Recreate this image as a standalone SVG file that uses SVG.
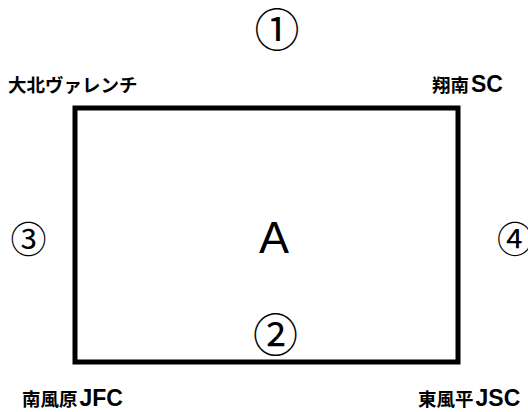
<svg xmlns="http://www.w3.org/2000/svg" width="528" height="412" viewBox="0 0 528 412">
<style>
.lbl{font-family:"Liberation Sans","Noto Sans CJK JP",sans-serif;font-weight:bold;font-size:18.5px;fill:#000}
.lat{font-family:"Liberation Sans",sans-serif;font-size:23px}
.num{font-family:"Noto Sans CJK JP",sans-serif;fill:#000;text-anchor:middle}
.big{font-size:45px}
.small{font-size:36px}
</style>
<rect width="528" height="412" fill="#fff"/>
<g id="field">
<rect x="75" y="108" width="383" height="254" fill="none" stroke="#000" stroke-width="5"/>
<text x="274" y="253" font-family="Liberation Sans, sans-serif" font-size="45" text-anchor="middle">A</text>
</g>
<g id="n1"><text class="num big" x="277" y="47">①</text></g>
<g id="n2"><text class="num big" x="275.5" y="351.5">②</text></g>
<g id="n3"><text class="num small" x="28.5" y="252.5">③</text></g>
<g id="n4"><text class="num small" x="515" y="252.5">④</text></g>
<g id="tl"><text class="lbl" x="8" y="92">大北ヴァレンチ</text></g>
<g id="tr"><text class="lbl" x="432" y="92">翔南<tspan class="lat" dx="2">SC</tspan></text></g>
<g id="bl"><text class="lbl" x="22" y="406">南風原<tspan class="lat" dx="2">JFC</tspan></text></g>
<g id="br"><text class="lbl" x="418" y="406">東風平<tspan class="lat" dx="2">JSC</tspan></text></g>
<g id="connectors"></g>
</svg>
